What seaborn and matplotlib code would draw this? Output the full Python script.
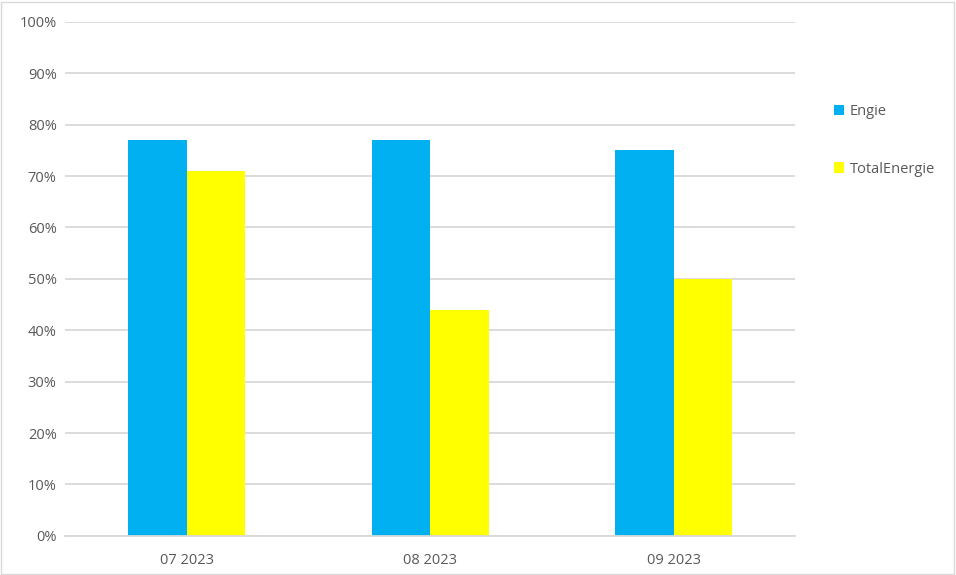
import pandas as pd
import seaborn as sns
import matplotlib.pyplot as plt
from matplotlib.patches import Rectangle
from matplotlib.ticker import PercentFormatter

# data
months = ['07 2023', '08 2023', '09 2023']
engie = [0.77, 0.77, 0.75]
total_energie = [0.71, 0.44, 0.50]
suppliers = ['Engie', 'TotalEnergie']
colors = ['#00B0F0', '#FFFF00']

df = pd.DataFrame({
    'Mois': months * 2,
    'Fournisseur': ['Engie'] * 3 + ['TotalEnergie'] * 3,
    'Part': engie + total_energie,
})

sns.set_style('white')
plt.rcParams['font.family'] = ['Open Sans', 'DejaVu Sans']

fig = plt.figure(figsize=(9.56, 5.75), dpi=100)
ax = fig.add_axes([0.068, 0.068, 0.764, 0.894])

sns.barplot(data=df, x='Mois', y='Part', hue='Fournisseur',
            hue_order=suppliers, palette=colors, width=0.48,
            saturation=1, linewidth=0, ax=ax, legend=True)

ax.set_xlim(-0.5, 2.5)
ax.set_ylim(0, 1)
ax.set_yticks([i / 10 for i in range(11)])
ax.yaxis.set_major_formatter(PercentFormatter(1.0, decimals=0))
ax.grid(axis='y', color='#d9d9d9', linewidth=1.3)
ax.set_axisbelow(True)
ax.set_xlabel('')
ax.set_ylabel('')
for side in ['top', 'right', 'left']:
    ax.spines[side].set_visible(False)
ax.spines['bottom'].set_color('#d9d9d9')
ax.spines['bottom'].set_linewidth(1.3)
ax.tick_params(axis='both', length=0, colors='#595959', labelsize=10.5)
ax.tick_params(axis='x', pad=12)
ax.tick_params(axis='y', pad=6)

handles, labels = ax.get_legend_handles_labels()
ax.legend(handles, labels, loc='upper left', bbox_to_anchor=(1.035, 0.865),
          frameon=False, fontsize=10.5, labelcolor='#595959',
          handlelength=0.7, handleheight=0.7, handletextpad=0.4,
          labelspacing=2.9)

# light border round the whole chart
fig.patches.append(Rectangle((0.001, 0.002), 0.997, 0.995, transform=fig.transFigure,
                             fill=False, edgecolor='#d9d9d9', linewidth=1))

plt.savefig('out.png', dpi=100)
